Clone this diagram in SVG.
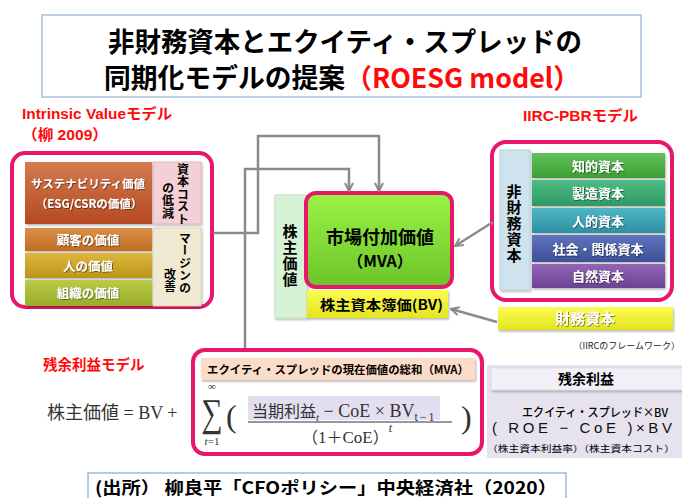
<svg xmlns="http://www.w3.org/2000/svg" width="682" height="498" viewBox="0 0 682 498">
<style>
.jp{font-family:"Noto Sans CJK JP","Noto Sans",sans-serif}
.sans{font-family:"Liberation Sans","Noto Sans CJK JP",sans-serif}
.serif{font-family:"Liberation Serif","Noto Sans CJK JP",serif}
.b{font-weight:700}
.red{fill:#ff0a0a}
.w{fill:#fff;filter:url(#ts)}
.vt{writing-mode:vertical-rl}
.conn{fill:none;stroke:#8a8a8a;stroke-width:2.5}
.pink{fill:#fff;stroke:#e8176a;stroke-width:4}
.blk{filter:url(#bs)}
.mid{text-anchor:middle}
</style>
<defs>
<filter id="ts" x="-10%" y="-30%" width="130%" height="160%"><feDropShadow dx="0.8" dy="0.8" stdDeviation="0.6" flood-color="#000" flood-opacity="0.55"/></filter>
<filter id="bs" x="-5%" y="-10%" width="115%" height="130%"><feDropShadow dx="1" dy="1.5" stdDeviation="1" flood-color="#000" flood-opacity="0.3"/></filter>
<linearGradient id="gBrown" x1="0" y1="0" x2="0" y2="1"><stop offset="0" stop-color="#d57a4e"/><stop offset="1" stop-color="#b44a22"/></linearGradient>
<linearGradient id="gOrange" x1="0" y1="0" x2="0" y2="1"><stop offset="0" stop-color="#dc9048"/><stop offset="1" stop-color="#c06d24"/></linearGradient>
<linearGradient id="gMustard" x1="0" y1="0" x2="0" y2="1"><stop offset="0" stop-color="#dcb83c"/><stop offset="1" stop-color="#bd941c"/></linearGradient>
<linearGradient id="gOlive" x1="0" y1="0" x2="0" y2="1"><stop offset="0" stop-color="#bccb48"/><stop offset="1" stop-color="#98ac26"/></linearGradient>
<linearGradient id="gGreen" x1="0" y1="0" x2="0" y2="1"><stop offset="0" stop-color="#9af344"/><stop offset="1" stop-color="#6cc42a"/></linearGradient>
<linearGradient id="gYellow" x1="0" y1="0" x2="0" y2="1"><stop offset="0" stop-color="#fbfb52"/><stop offset="1" stop-color="#e4e420"/></linearGradient>
<linearGradient id="g1" x1="0" y1="0" x2="0" y2="1"><stop offset="0" stop-color="#62c358"/><stop offset="1" stop-color="#3c9e34"/></linearGradient>
<linearGradient id="g2" x1="0" y1="0" x2="0" y2="1"><stop offset="0" stop-color="#4dbb84"/><stop offset="1" stop-color="#2f9a62"/></linearGradient>
<linearGradient id="g3" x1="0" y1="0" x2="0" y2="1"><stop offset="0" stop-color="#4fb6c6"/><stop offset="1" stop-color="#2f8ea2"/></linearGradient>
<linearGradient id="g4" x1="0" y1="0" x2="0" y2="1"><stop offset="0" stop-color="#5f74bd"/><stop offset="1" stop-color="#3e4f98"/></linearGradient>
<linearGradient id="g5" x1="0" y1="0" x2="0" y2="1"><stop offset="0" stop-color="#9266b6"/><stop offset="1" stop-color="#6c4293"/></linearGradient>
<marker id="ah" viewBox="0 0 10 10" refX="9" refY="5" markerWidth="4" markerHeight="4" orient="auto" markerUnits="strokeWidth"><path d="M1,1 L9,5 L1,9" fill="none" stroke="#8a8a8a" stroke-width="2"/></marker>
</defs>
<rect width="682" height="498" fill="#fff"/>

<g id="title">
<rect x="42" y="15" width="599" height="82" fill="#fff" stroke="#a9c0dc" stroke-width="1.5"/>
<text x="108" y="52" class="jp b" font-size="27" textLength="474" lengthAdjust="spacingAndGlyphs">非財務資本とエクイティ・スプレッドの</text>
<text x="104" y="88" class="jp b" font-size="27" textLength="476" lengthAdjust="spacingAndGlyphs">同期化モデルの提案<tspan class="red">（ROESG model）</tspan></text>
</g>

<g id="intrinsic-label">
<text x="22" y="119" class="sans b red" font-size="15" textLength="150" lengthAdjust="spacingAndGlyphs">Intrinsic Valueモデル</text>
<text x="22" y="140" class="sans b red" font-size="15" textLength="86" lengthAdjust="spacingAndGlyphs">（柳 2009）</text>
</g>

<g id="intrinsic-model">
<rect x="12" y="153" width="200" height="154" rx="13" class="pink"/>
<rect x="25" y="162" width="127" height="62" fill="url(#gBrown)" class="blk"/>
<text x="88" y="188" class="jp b w mid" font-size="11.5">サステナビリティ価値</text>
<text x="89" y="208" class="jp b w mid" font-size="11.5">（ESG/CSRの価値）</text>
<rect x="153" y="162" width="48" height="62" fill="#f3d0d5" stroke="#d9b3b8" stroke-width="0.8" class="blk"/>
<text x="183" y="163" class="jp b vt" font-size="12" letter-spacing="0.5">資本コスト</text>
<text x="168" y="182" class="jp b vt" font-size="12" letter-spacing="0.5">の低減</text>
<rect x="25" y="228" width="127" height="23" fill="url(#gOrange)" class="blk"/>
<text x="88" y="245" class="jp b w mid" font-size="12.5">顧客の価値</text>
<rect x="25" y="253" width="127" height="25" fill="url(#gMustard)" class="blk"/>
<text x="88" y="271" class="jp b w mid" font-size="12.5">人の価値</text>
<rect x="25" y="280" width="127" height="26" fill="url(#gOlive)" class="blk"/>
<text x="88" y="298" class="jp b w mid" font-size="12.5">組織の価値</text>
<rect x="153" y="228" width="48" height="78" fill="#f0ead2" stroke="#d8d1b4" stroke-width="0.8" class="blk"/>
<text x="185" y="232" class="jp b vt" font-size="12" letter-spacing="0.5">マージンの</text>
<text x="170" y="268" class="jp b vt" font-size="12" letter-spacing="0.5">改善</text>
</g>

<g id="shareholder-value">
<rect x="275" y="195" width="32" height="123" fill="#d6f3d6" stroke="#b9dcb9" stroke-width="0.8" class="blk"/>
<text x="290" y="224" class="jp b vt" font-size="15" letter-spacing="1">株主価値</text>
</g>

<g id="mva">
<rect x="306" y="193" width="146" height="94" rx="10" fill="url(#gGreen)" stroke="#e8176a" stroke-width="4"/>
<text x="380" y="244" class="jp b mid" font-size="18">市場付加価値</text>
<text x="380" y="267" class="jp b mid" font-size="16">（MVA）</text>
</g>

<g id="bv">
<rect x="307" y="290" width="141" height="28" fill="url(#gYellow)" class="blk"/>
<text x="320" y="310" class="jp b" font-size="14" textLength="123" lengthAdjust="spacingAndGlyphs">株主資本簿価(BV)</text>
</g>

<g id="iirc-label">
<text x="523" y="121" class="sans b red" font-size="15" textLength="115" lengthAdjust="spacingAndGlyphs">IIRC-PBRモデル</text>
</g>

<g id="iirc-model">
<rect x="492" y="142" width="180" height="158" rx="14" class="pink"/>
<rect x="500" y="150" width="30" height="140" fill="#cfe3ee" stroke="#b0cbd9" stroke-width="0.8" class="blk"/>
<text x="514" y="184" class="jp b vt" font-size="15" letter-spacing="1">非財務資本</text>
<rect x="532" y="153" width="133" height="25" fill="url(#g1)" class="blk"/>
<text x="598" y="171" class="jp b w mid" font-size="13">知的資本</text>
<rect x="532" y="180" width="133" height="26" fill="url(#g2)" class="blk"/>
<text x="598" y="198" class="jp b w mid" font-size="13">製造資本</text>
<rect x="532" y="208" width="133" height="25" fill="url(#g3)" class="blk"/>
<text x="598" y="226" class="jp b w mid" font-size="13">人的資本</text>
<rect x="532" y="235" width="133" height="27" fill="url(#g4)" class="blk"/>
<text x="598" y="254" class="jp b w mid" font-size="13">社会・関係資本</text>
<rect x="532" y="264" width="133" height="24" fill="url(#g5)" class="blk"/>
<text x="598" y="281" class="jp b w mid" font-size="13">自然資本</text>
</g>

<g id="financial-capital">
<rect x="498" y="307" width="175" height="23" fill="url(#gYellow)" class="blk"/>
<text x="585" y="324" class="jp b w mid" font-size="15">財務資本</text>
<text x="680" y="349" class="jp" font-size="9" text-anchor="end" fill="#222">（IIRCのフレームワーク）</text>
</g>

<g id="connectors">
<path d="M213,233 H258 V136 H379 V191" class="conn" marker-end="url(#ah)"/>
<path d="M245,350 V169 H349 V191" class="conn" marker-end="url(#ah)"/>
<path d="M493,222 L455,246" class="conn" marker-end="url(#ah)"/>
<path d="M497,322 L451,309" class="conn" marker-end="url(#ah)"/>
</g>

<g id="residual-label">
<text x="43" y="370" class="jp b red" font-size="14.5">残余利益モデル</text>
<text x="47" y="419" font-size="18" fill="#333"><tspan class="jp">株主価値</tspan><tspan class="serif"> = BV +</tspan></text>
</g>

<g id="formula">
<rect x="193" y="350" width="289" height="104" rx="12" class="pink"/>
<rect x="201" y="358" width="274" height="22" fill="#fbdcc8" class="blk"/>
<text x="207" y="374" class="jp b" font-size="11.5" textLength="262" lengthAdjust="spacingAndGlyphs">エクイティ・スプレッドの現在価値の総和（MVA）</text>
<text x="212" y="390" class="serif mid" font-size="11" fill="#333">∞</text>
<text class="serif mid" font-size="30" fill="#333" transform="translate(212,426) scale(1,1.3)">∑</text>
<text x="212" y="445" class="serif mid" font-size="11" fill="#333"><tspan font-style="italic">t</tspan>=1</text>
<text x="226" y="427" class="serif" font-size="32" fill="#333">(</text>
<rect x="248" y="396" width="192" height="24" fill="#e3dff0"/>
<text y="417" class="serif" font-size="18" fill="#333"><tspan x="252" class="jp" font-size="16">当期利益</tspan><tspan font-style="italic" font-size="11" dy="4">t</tspan><tspan dy="-4"> − CoE × BV</tspan><tspan font-size="12" dy="4" letter-spacing="2">t−1</tspan></text>
<line x1="248" y1="422" x2="452" y2="422" stroke="#333" stroke-width="1.2"/>
<text y="443" class="serif" font-size="17" fill="#333"><tspan x="302" class="jp" font-size="16">（</tspan><tspan>1</tspan><tspan class="jp" font-size="16">＋</tspan><tspan>CoE</tspan><tspan class="jp" font-size="16">）</tspan><tspan font-style="italic" font-size="12" dy="-11">t</tspan></text>
<text x="461" y="428" class="serif" font-size="32" fill="#333">)</text>
</g>

<g id="residual-income">
<rect x="487" y="365" width="195" height="93" fill="#e6e3ee"/>
<rect x="491" y="368" width="191" height="22" fill="#f2f0f6" stroke="#d6d2e0" stroke-width="0.6" class="blk"/>
<text x="586" y="384" class="jp b mid" font-size="14">残余利益</text>
<text x="595" y="417" class="jp mid" font-size="12" font-weight="500" textLength="146" lengthAdjust="spacingAndGlyphs">エクイティ・スプレッド×BV</text>
<text x="492" y="433" class="sans" font-size="15" fill="#111" textLength="180" lengthAdjust="spacing">(  ROE  −  CoE  )×BV</text>
<text x="487" y="452" class="jp" font-size="9" textLength="188" lengthAdjust="spacingAndGlyphs">（株主資本利益率）（株主資本コスト）</text>
</g>

<g id="source">
<rect x="88" y="473" width="478" height="32" fill="#fff" stroke="#9db9dd" stroke-width="1.5"/>
<text x="95" y="494" class="jp b" font-size="17" textLength="462" lengthAdjust="spacingAndGlyphs">(出所） 柳良平「CFOポリシー」中央経済社（2020）</text>
</g>
</svg>
